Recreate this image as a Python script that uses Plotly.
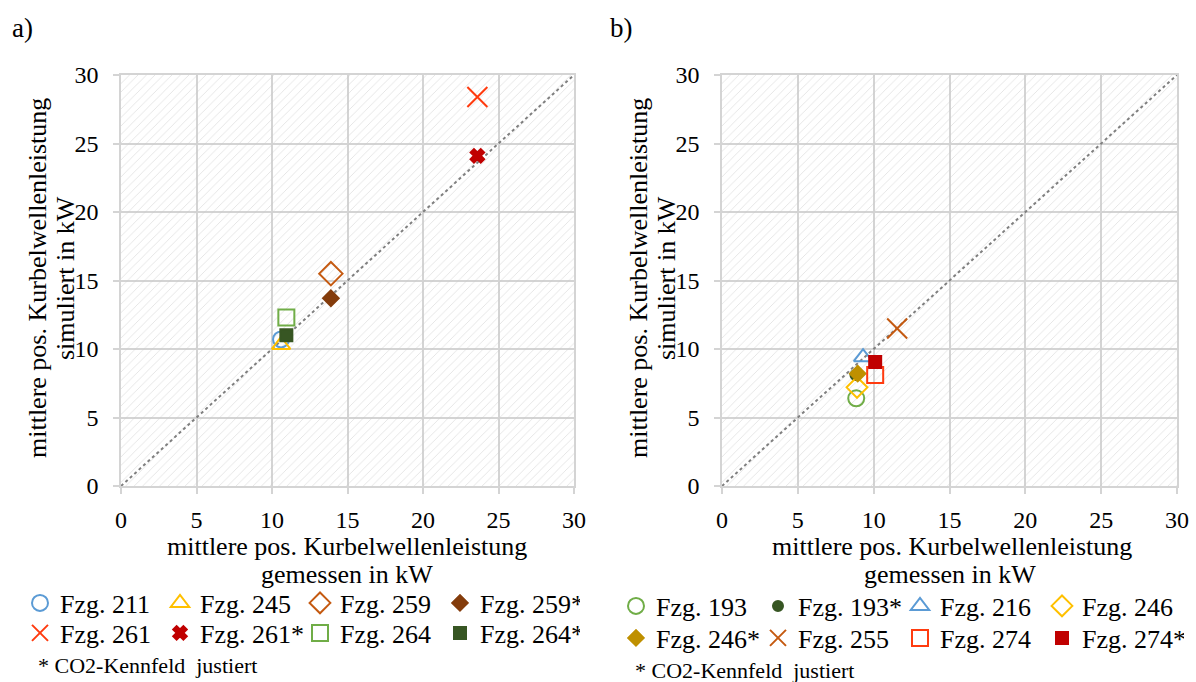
import plotly.graph_objects as go

# ---------------- data ----------------
AX_RANGE = [0, 30]
TICKS = [0, 5, 10, 15, 20, 25, 30]

a_names = ["Fzg. 211", "Fzg. 245", "Fzg. 259", "Fzg. 259*",
           "Fzg. 261", "Fzg. 261*", "Fzg. 264", "Fzg. 264*"]
a_meas = [10.6, 10.6, 13.9, 13.9, 23.6, 23.6, 10.95, 10.95]
a_sim = [10.7, 10.3, 15.5, 13.7, 28.4, 24.1, 12.3, 11.0]
a_symbols = ["circle-open", "triangle-up-open", "diamond-open", "diamond",
             "x-thin-open", "x", "square-open", "square"]
a_colors = ["#5B9BD5", "#FFC000", "#C55A11", "#843C0C",
            "#FF3B0F", "#C00000", "#70AD47", "#375623"]
a_sizes = [16, 16, 18, 12, 20, 12, 16, 12]

b_names = ["Fzg. 193", "Fzg. 193*", "Fzg. 216", "Fzg. 246",
           "Fzg. 246*", "Fzg. 255", "Fzg. 274", "Fzg. 274*"]
b_meas = [8.85, 8.8, 9.3, 8.9, 8.95, 11.55, 10.1, 10.1]
b_sim = [6.4, 8.1, 9.4, 7.2, 8.2, 11.5, 8.1, 9.05]
b_symbols = ["circle-open", "circle", "triangle-up-open", "diamond-open",
             "diamond", "x-thin-open", "square-open", "square"]
b_colors = ["#70AD47", "#375623", "#5B9BD5", "#FFC000",
            "#BF9000", "#C55A11", "#FF3B0F", "#C00000"]
b_sizes = [16, 10, 16, 16, 12, 20, 16, 12]

FONT = "Liberation Serif"

fig = go.Figure()


def add_panel(xa, ya, names, xs, ys, symbols, colors, sizes, legends):
    # hatched background
    fig.add_trace(go.Scatter(
        x=[AX_RANGE[0], AX_RANGE[1], AX_RANGE[1], AX_RANGE[0], AX_RANGE[0]],
        y=[AX_RANGE[0], AX_RANGE[0], AX_RANGE[1], AX_RANGE[1], AX_RANGE[0]],
        mode="lines", line=dict(width=0), fill="toself",
        fillcolor="rgba(0,0,0,0)",
        fillpattern=dict(shape="/", fgcolor="#c8c8c8", bgcolor="rgba(0,0,0,0)",
                         size=6, solidity=0.15),
        xaxis=xa, yaxis=ya, showlegend=False, hoverinfo="skip"))
    # 1:1 line
    fig.add_trace(go.Scatter(
        x=AX_RANGE, y=AX_RANGE, mode="lines",
        line=dict(color="#7f7f7f", width=2, dash="dot"),
        xaxis=xa, yaxis=ya, showlegend=False, hoverinfo="skip"))
    for i, (n, x, y, s, c, sz) in enumerate(zip(names, xs, ys, symbols, colors, sizes)):
        fig.add_trace(go.Scatter(
            x=[x], y=[y], mode="markers", name=n,
            marker=dict(symbol=s, color=c, size=sz,
                        line=dict(color=c, width=2)),
            xaxis=xa, yaxis=ya,
            legend=legends[0] if i < 4 else legends[1]))


add_panel("x", "y", a_names, a_meas, a_sim, a_symbols, a_colors, a_sizes,
          ["legend", "legend2"])
add_panel("x2", "y2", b_names, b_meas, b_sim, b_symbols, b_colors, b_sizes,
          ["legend3", "legend4"])

W, H = 1196, 682
ydom = [1 - 486 / H, 1 - 75 / H]
axis_common = dict(range=AX_RANGE, tickvals=TICKS, showgrid=True,
                   gridcolor="#d4d4d4", gridwidth=1.5, zeroline=False,
                   showline=True, linecolor="#d4d4d4", linewidth=1.5, mirror=True,
                   ticks="outside", ticklen=6, tickcolor="#d4d4d4", tickwidth=1.5,
                   tickfont=dict(family=FONT, size=24, color="#000"),
                   fixedrange=True)

fig.update_layout(
    width=W, height=H,
    margin=dict(l=0, r=0, t=0, b=0, autoexpand=False),
    paper_bgcolor="white", plot_bgcolor="white",
    font=dict(family=FONT, color="#000"),
    xaxis=dict(domain=[121 / W, 574 / W], anchor="y", ticklabelstandoff=5, **axis_common),
    yaxis=dict(domain=ydom, anchor="x", ticklabelstandoff=10, **axis_common),
    xaxis2=dict(domain=[722 / W, 1177 / W], anchor="y2", ticklabelstandoff=5, **axis_common),
    yaxis2=dict(domain=ydom, anchor="x2", ticklabelstandoff=10, **axis_common),
)

leg_common = dict(orientation="h", font=dict(family=FONT, size=26, color="#000"),
                  bgcolor="rgba(0,0,0,0)", itemwidth=30, tracegroupgap=0,
                  xanchor="left", yanchor="middle", itemclick=False,
                  itemdoubleclick=False)
fig.update_layout(
    legend=dict(x=20 / W, y=1 - 603 / H, entrywidth=95, **leg_common),
    legend2=dict(x=20 / W, y=1 - 633 / H, entrywidth=95, **leg_common),
    legend3=dict(x=616 / W, y=1 - 606 / H, entrywidth=97, **leg_common),
    legend4=dict(x=616 / W, y=1 - 638 / H, entrywidth=97, **leg_common),
)

ann = []


def text(x, y, s, size, xanchor="center", angle=0):
    ann.append(dict(x=x / W, y=1 - y / H, xref="paper", yref="paper", text=s,
                    showarrow=False, xanchor=xanchor, yanchor="middle",
                    textangle=angle, font=dict(family=FONT, size=size, color="#000")))


text(10, 28, "a)", 27, "left")
text(608, 28, "b)", 27, "left")
# panel a axis titles
text(347, 546, "mittlere pos. Kurbelwellenleistung", 26)
text(347, 574, "gemessen in kW", 26)
text(37, 278, "mittlere pos. Kurbelwellenleistung", 26, angle=-90)
text(65, 278, "simuliert in kW", 26, angle=-90)
# panel b axis titles
text(952, 546, "mittlere pos. Kurbelwellenleistung", 26)
text(950, 574, "gemessen in kW", 26)
text(638, 278, "mittlere pos. Kurbelwellenleistung", 26, angle=-90)
text(666, 278, "simuliert in kW", 26, angle=-90)
# footnotes
text(36, 665, "* CO2-Kennfeld  justiert", 22, "left")
text(633, 670, "* CO2-Kennfeld  justiert", 22, "left")

fig.update_layout(annotations=ann)
fig.write_html("out.html")
